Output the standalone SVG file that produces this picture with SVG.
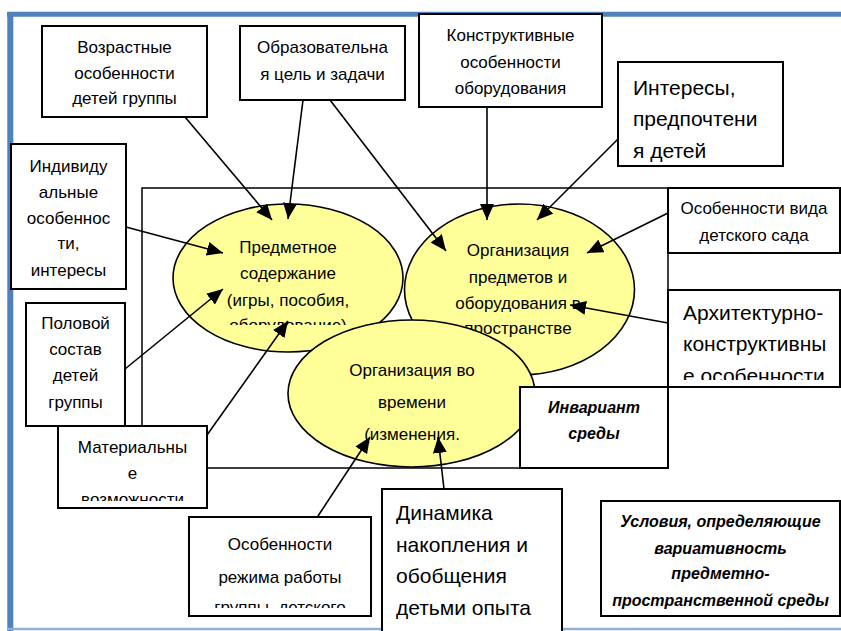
<svg xmlns="http://www.w3.org/2000/svg" width="841" height="631" viewBox="0 0 841 631">
<style>
text{font-family:"Liberation Sans",Arial,sans-serif;fill:#000}
.s{font-size:17px}
.l{font-size:21px}
.bi{font-size:16px;font-weight:bold;font-style:italic}
.c{text-anchor:middle}
.box{fill:#fff;stroke:#000;stroke-width:2}
.ell{fill:#ffff99;stroke:#000;stroke-width:1.6}
.con{stroke:#000;stroke-width:1.6;fill:none;marker-end:url(#ah)}
</style>
<defs>
<marker id="ah" markerUnits="userSpaceOnUse" markerWidth="18" markerHeight="14" refX="16" refY="7" orient="auto">
<path d="M0,0 L16,7 L0,14 Z" fill="#000"/>
</marker>
<clipPath id="cpE1"><rect x="170" y="200" width="240" height="125"/></clipPath>
<clipPath id="cpMat"><rect x="58" y="426" width="149" height="75"/></clipPath>
<clipPath id="cpRez"><rect x="189" y="517" width="182" height="91"/></clipPath>
<clipPath id="cpArch"><rect x="668" y="290" width="172" height="90"/></clipPath>
</defs>
<rect width="841" height="631" fill="#fff"/>
<g id="frame">
<line x1="7" y1="14.2" x2="841" y2="14.2" stroke="#4f81bd" stroke-width="5"/>
<line x1="10.3" y1="12" x2="10.3" y2="631" stroke="#4f81bd" stroke-width="6"/>
<line x1="7" y1="629" x2="841" y2="629" stroke="#8eb0dc" stroke-width="2.5"/>
</g>
<g id="inner">
<rect x="142" y="188" width="526" height="280" fill="none" stroke="#000" stroke-width="1.5"/>
</g>
<g id="ell1">
<ellipse class="ell" cx="288" cy="278" rx="115" ry="74"/>
<text class="s c" x="288" y="253">Предметное</text>
<text class="s c" x="288" y="279">содержание</text>
<text class="s c" x="288" y="306">(игры, пособия,</text>
<text class="s c" x="288" y="331" clip-path="url(#cpE1)">оборудование)</text>
</g>
<g id="ell2">
<ellipse class="ell" cx="519.5" cy="289.5" rx="115" ry="85.5"/>
<text class="s c" x="518" y="256">Организация</text>
<text class="s c" x="518" y="283">предметов и</text>
<text class="s c" x="518" y="309">оборудования в</text>
<text class="s c" x="518" y="334">пространстве</text>
</g>
<g id="ell3">
<ellipse class="ell" cx="411.5" cy="393.5" rx="123.5" ry="73.5"/>
<text class="s c" x="412" y="376">Организация во</text>
<text class="s c" x="412" y="408">времени</text>
<text class="s c" x="412" y="440">(изменения.</text>
</g>
<g id="n_vozrast">
<rect class="box" x="42" y="26" width="165" height="91"/>
<text class="s c" x="124.5" y="53">Возрастные</text>
<text class="s c" x="124.5" y="79">особенности</text>
<text class="s c" x="124.5" y="104">детей группы</text>
</g>
<g id="n_obraz">
<rect class="box" x="240" y="26" width="165" height="74"/>
<text class="s c" x="322.5" y="53">Образовательна</text>
<text class="s c" x="322.5" y="80">я цель и задачи</text>
</g>
<g id="n_konstr">
<rect class="box" x="419" y="14" width="183" height="93"/>
<text class="s c" x="510.5" y="41">Конструктивные</text>
<text class="s c" x="510.5" y="68">особенности</text>
<text class="s c" x="510.5" y="94">оборудования</text>
</g>
<g id="n_inter">
<rect class="box" x="618" y="62" width="165" height="104"/>
<text class="l" x="633" y="95">Интересы,</text>
<text class="l" x="633" y="126">предпочтени</text>
<text class="l" x="633" y="158">я детей</text>
</g>
<g id="n_indiv">
<rect class="box" x="11" y="144" width="115" height="145"/>
<text class="s c" x="68.5" y="172">Индивиду</text>
<text class="s c" x="68.5" y="198">альные</text>
<text class="s c" x="68.5" y="224">особеннос</text>
<text class="s c" x="68.5" y="249">ти,</text>
<text class="s c" x="68.5" y="276">интересы</text>
</g>
<g id="n_polov">
<rect class="box" x="26" y="303" width="99" height="123"/>
<text class="s c" x="75.5" y="329">Половой</text>
<text class="s c" x="75.5" y="355">состав</text>
<text class="s c" x="75.5" y="381">детей</text>
<text class="s c" x="75.5" y="408">группы</text>
</g>
<g id="n_mater">
<rect class="box" x="58" y="426" width="149" height="82"/>
<text class="s c" x="132.5" y="453">Материальны</text>
<text class="s c" x="132.5" y="479">е</text>
<text class="s c" x="132.5" y="505" clip-path="url(#cpMat)">возможности</text>
</g>
<g id="n_rezhim">
<rect class="box" x="189" y="517" width="182" height="99"/>
<text class="s c" x="280" y="550">Особенности</text>
<text class="s c" x="280" y="583">режима работы</text>
<text class="s c" x="280" y="613" clip-path="url(#cpRez)">группы, детского</text>
</g>
<g id="n_dinam">
<rect class="box" x="382" y="489" width="180" height="160"/>
<text class="l" x="396" y="520">Динамика</text>
<text class="l" x="396" y="552">накопления и</text>
<text class="l" x="396" y="583">обобщения</text>
<text class="l" x="396" y="615">детьми опыта</text>
</g>
<g id="n_uslov">
<rect class="box" x="601" y="501" width="239" height="115"/>
<text class="bi c" x="720.5" y="527">Условия, определяющие</text>
<text class="bi c" x="720.5" y="554">вариативность</text>
<text class="bi c" x="720.5" y="579">предметно-</text>
<text class="bi c" x="720.5" y="606">пространственной среды</text>
</g>
<g id="n_invar">
<rect class="box" x="520" y="387" width="148" height="81"/>
<text class="bi c" x="594" y="413">Инвариант</text>
<text class="bi c" x="594" y="439">среды</text>
</g>
<g id="n_vid">
<rect class="box" x="668" y="188" width="172" height="65"/>
<text class="s c" x="754" y="214">Особенности вида</text>
<text class="s c" x="754" y="241">детского сада</text>
</g>
<g id="n_arch">
<rect class="box" x="668" y="290" width="172" height="97"/>
<text class="l" x="683" y="320">Архитектурно-</text>
<text class="l" x="683" y="351">конструктивны</text>
<text class="l" x="683" y="383" clip-path="url(#cpArch)">е особенности</text>
</g>
<g id="connectors">
<line class="con" x1="185" y1="117" x2="272" y2="220"/>
<line class="con" x1="303" y1="100" x2="288" y2="219"/>
<line class="con" x1="330" y1="100" x2="446" y2="251"/>
<line class="con" x1="487" y1="107" x2="487" y2="220"/>
<line class="con" x1="618" y1="139" x2="537" y2="220"/>
<line class="con" x1="668" y1="213" x2="587" y2="253"/>
<line class="con" x1="668" y1="323" x2="570" y2="305"/>
<line class="con" x1="126" y1="227" x2="223" y2="253"/>
<line class="con" x1="125" y1="369" x2="223" y2="289"/>
<line class="con" x1="207" y1="435" x2="288" y2="321"/>
<line class="con" x1="318" y1="516" x2="370" y2="437"/>
<line class="con" x1="444" y1="489" x2="438" y2="437"/>
</g>
</svg>
